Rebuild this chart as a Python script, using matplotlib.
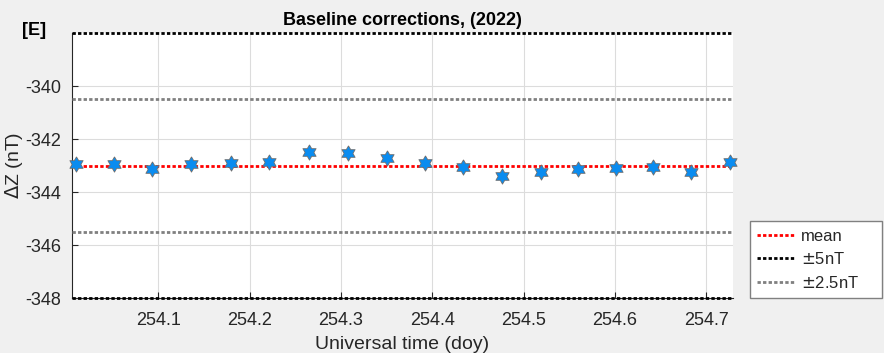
import numpy as np
import matplotlib
matplotlib.use("Agg")
import matplotlib.pyplot as plt

plt.rcParams['font.family'] = ['Liberation Sans', 'DejaVu Sans']

# baseline correction samples (doy, nT)
doy = [254.0095, 254.0511, 254.0934, 254.1358, 254.1793, 254.2216,
       254.2651, 254.3081, 254.3502, 254.3921, 254.4341, 254.4768,
       254.5188, 254.5594, 254.6013, 254.6422, 254.6835, 254.7258]
dz = [-342.94, -342.95, -343.13, -342.95, -342.90, -342.88,
      -342.50, -342.54, -342.70, -342.92, -343.04, -343.38,
      -343.26, -343.14, -343.11, -343.07, -343.23, -342.88]
mean_dz = -343.0
band_wide = 5.0
band_narrow = 2.5
xticks = [254.1, 254.2, 254.3, 254.4, 254.5, 254.6, 254.7]
yticks = [-348, -346, -344, -342, -340]

#hexagram marker like matlab
ang_out = np.deg2rad(90 + 60 * np.arange(6))
ang_in = np.deg2rad(120 + 60 * np.arange(6))
verts = []
for a, b in zip(ang_out, ang_in):
    verts.append((np.cos(a), np.sin(a)))
    verts.append((np.cos(b) / np.sqrt(3), np.sin(b) / np.sqrt(3)))
verts.append(verts[0])

fig = plt.figure(figsize=(8.84, 3.53), dpi=100, facecolor="#f0f0f0")
ax = fig.add_axes([0.0814, 0.1558, 0.7476, 0.7507])

dot = (0, (1.2, 0.8))
ax.axhline(mean_dz, color="red", lw=2, ls=dot, label="mean", zorder=3)
ax.axhline(mean_dz + band_wide, color="black", lw=2, ls=dot, label=r"$\pm$5nT", zorder=3, clip_on=False)
ax.axhline(mean_dz - band_wide, color="black", lw=2, ls=dot, zorder=3, clip_on=False)
ax.axhline(mean_dz + band_narrow, color="#808080", lw=2, ls=dot, label=r"$\pm$2.5nT", zorder=3)
ax.axhline(mean_dz - band_narrow, color="#808080", lw=2, ls=dot, zorder=3)
ax.plot(doy, dz, ls="none", marker=verts, ms=11, mfc="#0a8cf0", mec="#6e6e6e",
        mew=0.6, zorder=4, clip_on=False)

ax.set_xlim(254.0055, 254.7291)
ax.set_ylim(mean_dz - band_wide, mean_dz + band_wide)
ax.set_xticks(xticks)
ax.set_yticks(yticks)
ax.set_xticklabels([f"{t:.1f}" for t in xticks])
ax.set_yticklabels([str(t) for t in yticks])
ax.tick_params(direction="in", labelsize=13, colors="#262626", length=4, width=0.8)
ax.tick_params(axis="x", pad=10)
ax.tick_params(axis="y", pad=8)
ax.grid(True, color="#dcdcdc", lw=0.8)
ax.set_axisbelow(True)
for s in ["top", "right"]:
    ax.spines[s].set_visible(False)
for s in ["left", "bottom"]:
    ax.spines[s].set_color("#262626")
    ax.spines[s].set_linewidth(0.8)

ax.set_title("Baseline corrections, (2022)", fontsize=13, fontweight="bold", pad=6)
ax.set_ylabel(r"$\Delta$Z (nT)", fontsize=14, color="#262626", labelpad=0)
ax.set_xlabel("Universal time (doy)", fontsize=14, color="#262626", labelpad=5)
fig.text(0.025, 0.90, "[E]", fontsize=13, fontweight="bold")

# legend box sits outside the axes on the right, fixed width like matlab
leg = ax.legend(loc="lower left", bbox_to_anchor=(1.0257, 0.0, 0.1997, 0.3), mode="expand",
                fontsize=12, fancybox=False, edgecolor="#808080", framealpha=1,
                handlelength=2.2, handletextpad=0.4, borderaxespad=0,
                labelspacing=0.45, borderpad=0.45)
for t in leg.get_texts():
    t.set_color("#262626")

fig.savefig("out.png", dpi=100, facecolor=fig.get_facecolor())
